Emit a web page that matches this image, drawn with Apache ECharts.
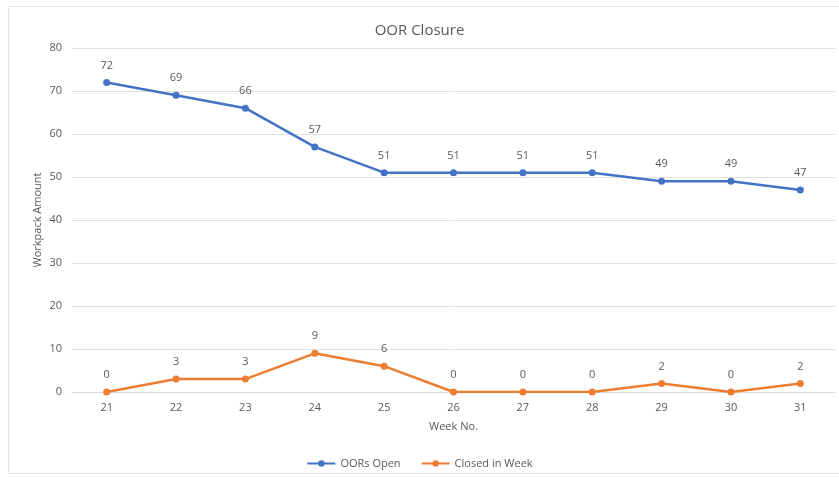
<!DOCTYPE html>
<html>
<head>
<meta charset="utf-8">
<script src="https://cdn.jsdelivr.net/npm/echarts@6/dist/echarts.min.js"></script>
<style>
  html, body { margin: 0; padding: 0; background: #fff; }
  #chart { width: 839px; height: 478px; }
</style>
</head>
<body>
<div id="chart"></div>
<script>
  // chart data
  const weeks = ['21', '22', '23', '24', '25', '26', '27', '28', '29', '30', '31'];
  const oorsOpen = [72, 69, 66, 57, 51, 51, 51, 51, 49, 49, 47];
  const closedInWeek = [0, 3, 3, 9, 6, 0, 0, 0, 2, 0, 2];

  const txt = '#595959';
  const fontFam = 'Open Sans, Lato, sans-serif';

  const chart = echarts.init(document.getElementById('chart'));
  chart.setOption({
    animation: false,
    textStyle: { fontFamily: fontFam },
    graphic: [{
      type: 'rect',
      shape: { x: 8.5, y: 6.5, width: 840, height: 467 },
      style: { fill: 'none', stroke: '#e6e6e6', lineWidth: 1 },
      silent: true
    }],
    title: {
      text: 'OOR Closure',
      left: 'center',
      top: 18,
      textStyle: { color: txt, fontSize: 15, fontWeight: 'normal', fontFamily: fontFam }
    },
    legend: {
      bottom: 4,
      left: 'center',
      itemWidth: 28,
      itemHeight: 8,
      itemGap: 20,
      textStyle: { color: txt, fontSize: 11 },
      data: ['OORs Open', 'Closed in Week']
    },
    grid: { left: 72, right: 4, top: 48, bottom: 86 },
    xAxis: {
      type: 'category',
      data: weeks,
      name: 'Week No.',
      nameLocation: 'middle',
      nameGap: 29,
      nameMoveOverlap: false,
      nameTextStyle: { color: txt, fontSize: 11 },
      axisLine: { lineStyle: { color: '#d9d9d9' } },
      axisTick: { show: false },
      axisLabel: { color: txt, fontSize: 11, margin: 10 }
    },
    yAxis: {
      type: 'value',
      min: 0,
      max: 80,
      interval: 10,
      name: 'Workpack Amount',
      nameLocation: 'middle',
      nameGap: 29,
      nameMoveOverlap: false,
      nameTextStyle: { color: txt, fontSize: 11 },
      axisLine: { show: false },
      axisTick: { show: false },
      axisLabel: { color: txt, fontSize: 11, margin: 10 },
      splitLine: { lineStyle: { color: '#e0e0e0' } }
    },
    series: [
      {
        name: 'OORs Open',
        type: 'line',
        data: oorsOpen,
        symbol: 'circle',
        symbolSize: 7,
        itemStyle: { color: '#4472C4' },
        lineStyle: { width: 2.5, color: '#4472C4' },
        label: { show: true, position: 'top', distance: 8, color: txt, fontSize: 11 }
      },
      {
        name: 'Closed in Week',
        type: 'line',
        data: closedInWeek,
        symbol: 'circle',
        symbolSize: 7,
        itemStyle: { color: '#ED7D31' },
        lineStyle: { width: 2.5, color: '#ED7D31' },
        label: { show: true, position: 'top', distance: 8, color: txt, fontSize: 11 }
      }
    ]
  });
</script>
</body>
</html>
